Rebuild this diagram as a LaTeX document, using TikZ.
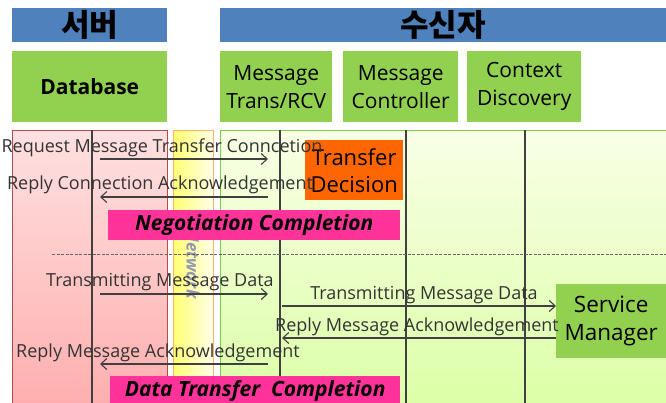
\documentclass[tikz,border=0pt]{standalone}
\usepackage{fontspec}
\setmainfont{Open Sans}
\newfontfamily\kofont{Noto Sans CJK KR}
\usetikzlibrary{arrows.meta}
\definecolor{hdrblue}{HTML}{4F81BD}
\definecolor{boxgreen}{HTML}{92D050}
\definecolor{decorange}{HTML}{FF6600}
\definecolor{donepink}{HTML}{FF3399}
\definecolor{lifeline}{HTML}{404040}
\definecolor{netgray}{HTML}{9098B4}
\tikzset{
  hdr/.style={fill=hdrblue, draw=none, anchor=north west, inner sep=0pt,
    font=\kofont\bfseries\fontsize{31}{34}\selectfont},
  comp/.style={fill=boxgreen, draw=none, anchor=north west, inner sep=0pt,
    align=center, font=\fontsize{21}{28}\selectfont},
  band/.style={anchor=north west, inner sep=0pt, line width=0.8pt},
  life/.style={draw=lifeline, line width=1.1pt},
  msg/.style={draw=lifeline, line width=1.1pt, -{Straight Barb[length=6pt,width=11pt,line width=1.1pt]}},
  msglabel/.style={inner sep=0pt, font=\fontsize{18}{20}\selectfont, text=black!80},
  phase/.style={fill=donepink, draw=none, anchor=north west, inner sep=0pt,
    font=\bfseries\itshape\fontsize{21}{24}\selectfont},
}
\begin{document}
\begin{tikzpicture}[x=1pt,y=-1pt]
\useasboundingbox (0,0) rectangle (666,403);
\fill[white] (0,0) rectangle (666,403);

% swim lanes
\node[band, draw=red!60!black!70, top color=red!12, bottom color=red!32,
  minimum width=155pt, minimum height=280pt] (srvlane) at (12,130) {};
\node[band, draw=orange!60, left color=yellow!55, right color=yellow!8,
  minimum width=40pt, minimum height=280pt] (netlane) at (173,130) {};
\node[band, draw=green!45!olive!70, top color=green!25!yellow!10, bottom color=green!40!yellow!35,
  minimum width=450pt, minimum height=280pt] (rcvlane) at (220,130) {};

% network label inside the middle lane
\node[rotate=-90, text=netgray, font=\bfseries\itshape\fontsize{17}{19}\selectfont, inner sep=0pt]
  (netlabel) at (193,264) {Network};

% lifelines
\coordinate (dbtop) at (92,130);   \coordinate (dbbot) at (92,403);
\coordinate (mttop) at (280,130);  \coordinate (mtbot) at (280,403);
\coordinate (mctop) at (406,130);  \coordinate (mcbot) at (406,403);
\coordinate (cdtop) at (525,130);  \coordinate (cdbot) at (525,403);
\draw[life] (dbtop) -- (dbbot);
\draw[life] (mttop) -- (mtbot);
\draw[life] (mctop) -- (mcbot);
\draw[life] (cdtop) -- (cdbot);

% headers
\node[hdr, minimum width=155pt, minimum height=34pt] (server) at (12,8) {서버};
\node[hdr, minimum width=446pt, minimum height=34pt] (receiver) at (220,8) {수신자};

% components
\node[comp, minimum width=155pt, minimum height=71pt, font=\bfseries\fontsize{21}{24}\selectfont]
  (db) at (12,51) {Database};
\node[comp, minimum width=112pt, minimum height=71pt] (mt) at (220,51) {Message\\Trans/RCV};
\node[comp, minimum width=115pt, minimum height=71pt] (mc) at (343,51) {Message\\Controller};
\node[comp, minimum width=114pt, minimum height=71pt] (cd) at (467,51) {Context\\Discovery};

% decision and service manager boxes
\node[fill=decorange, anchor=north west, inner sep=0pt, minimum width=98pt, minimum height=60pt,
  align=center, font=\fontsize{22}{27}\selectfont] (dec) at (305,140) {Transfer\\Decision};
\node[comp, minimum width=110pt, minimum height=74pt, font=\fontsize{22.5}{28}\selectfont]
  (sm) at (556,284) {Service\\Manager};

% message arrows
\coordinate (a1s) at (100,159); \coordinate (a1e) at (268,159);
\coordinate (a2s) at (268,197); \coordinate (a2e) at (100,197);
\coordinate (a3s) at (100,294); \coordinate (a3e) at (268,294);
\coordinate (a4s) at (282,306);
\coordinate (a5e) at (282,338);
\coordinate (a6s) at (268,364); \coordinate (a6e) at (100,364);
\draw[msg] (a1s) -- (a1e);
\draw[msg] (a2s) -- (a2e);
\draw[msg] (a3s) -- (a3e);
\draw[msg] (a4s) -- (sm.west |- a4s);
\draw[msg] (sm.west |- a5e) -- (a5e);
\draw[msg] (a6s) -- (a6e);

\node[msglabel] (l1) at (162,148) {Request Message Transfer Conncetion};
\node[msglabel] (l2) at (160,185) {Reply Connection Acknowledgement};
\node[msglabel] (l3) at (160,282) {Transmitting Message Data};
\node[msglabel] (l4) at (424,295) {Transmitting Message Data};
\node[msglabel] (l5) at (417,327) {Reply Message Acknowledgement};
\node[msglabel] (l6) at (158,353) {Reply Message Acknowledgement};

% phase markers
\node[phase, minimum width=292pt, minimum height=30pt] (nego) at (108,210) {Negotiation Completion};
\node[phase, minimum width=290pt, minimum height=30pt] (done) at (110,376) {Data Transfer\ \ Completion};

% phase separator
\coordinate (sepl) at (52,254); \coordinate (sepr) at (666,254);
\draw[lifeline!80, dashed, dash pattern=on 3pt off 1.5pt, line width=0.9pt] (sepl) -- (sepr);
\end{tikzpicture}
\end{document}
